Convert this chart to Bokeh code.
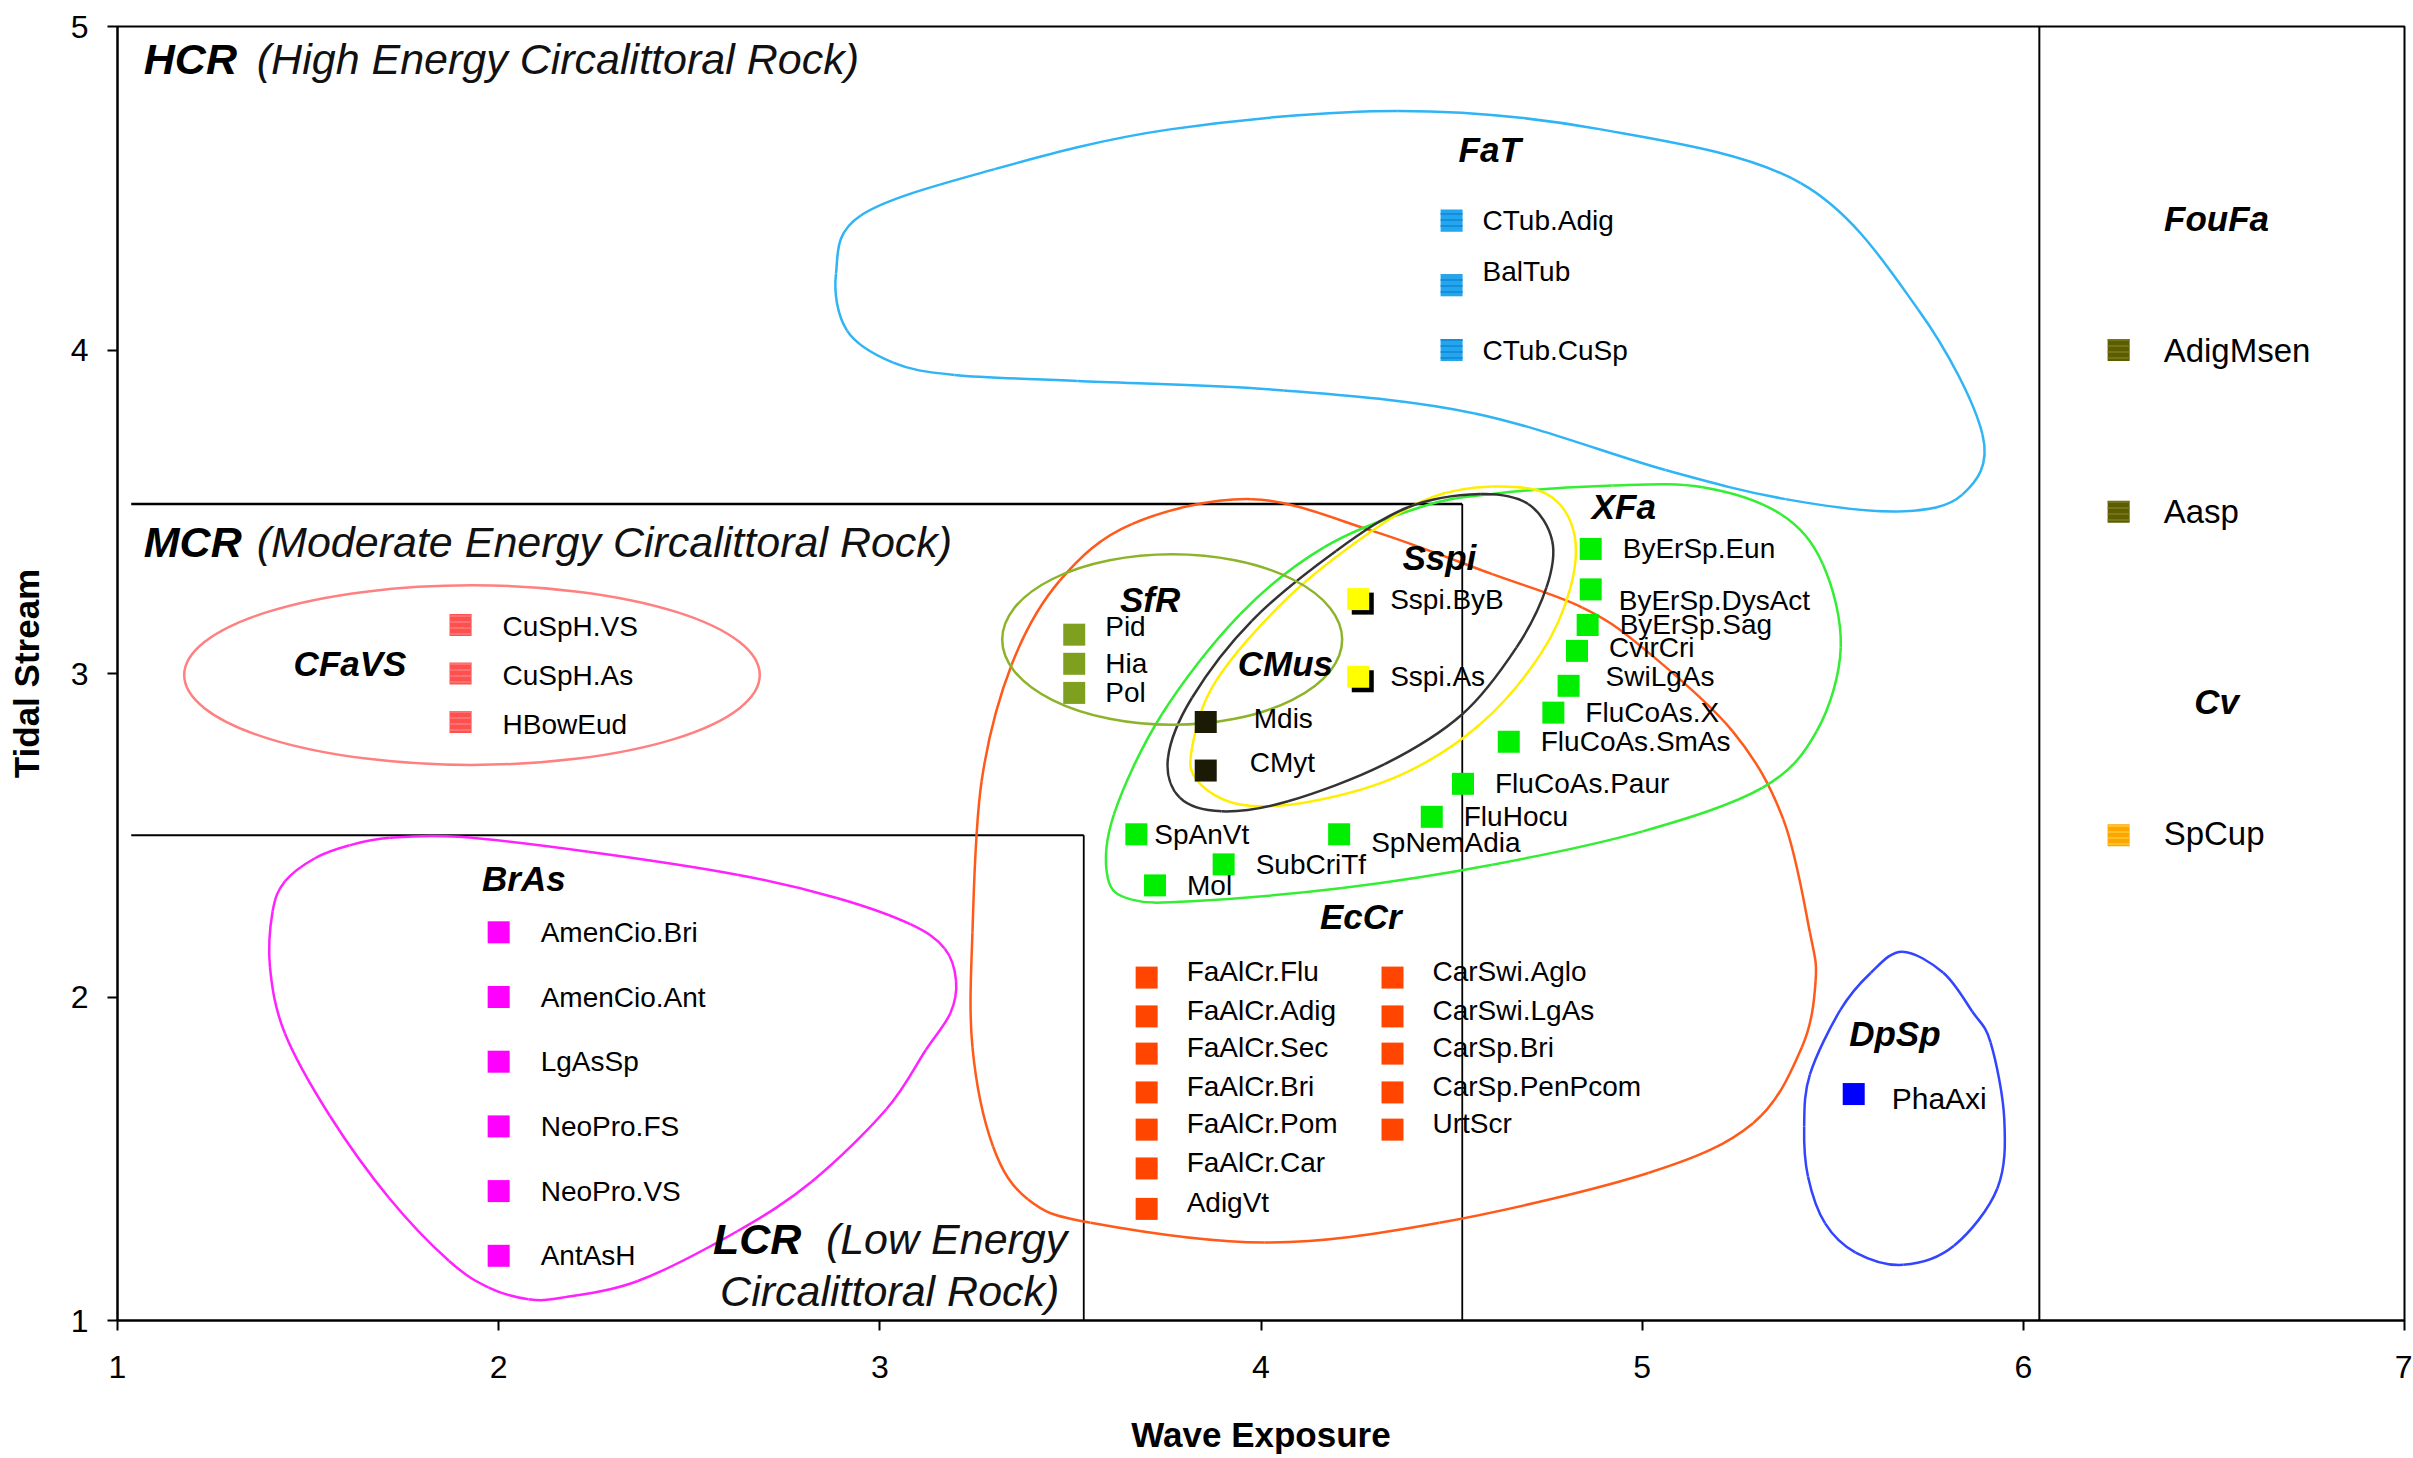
from bokeh.plotting import figure
from bokeh.models import FixedTicker, Range1d, ColumnDataSource
from bokeh.core.properties import value
from bokeh.transform import dodge
from bokeh.embed import file_html
from bokeh.resources import INLINE

FONT = "Liberation Sans"

# ---------------- data ----------------
x_ticks = [1, 2, 3, 4, 5, 6, 7]
y_ticks = [1, 2, 3, 4, 5]

# FaT
fat_names = ["CTub.Adig", "BalTub", "CTub.CuSp"]
fat_x = [4.5, 4.5, 4.5]
fat_y = [4.4, 4.2, 4.0]
# FouFa
foufa_names = ["AdigMsen", "Aasp"]
foufa_x = [6.25, 6.25]
foufa_y = [4.0, 3.5]
# Cv
cv_names = ["SpCup"]
cv_x = [6.25]
cv_y = [2.5]
# CFaVS
cfavs_names = ["CuSpH.VS", "CuSpH.As", "HBowEud"]
cfavs_x = [1.9, 1.9, 1.9]
cfavs_y = [3.15, 3.0, 2.85]
# BrAs
bras_names = ["AmenCio.Bri", "AmenCio.Ant", "LgAsSp", "NeoPro.FS", "NeoPro.VS", "AntAsH"]
bras_x = [2.0, 2.0, 2.0, 2.0, 2.0, 2.0]
bras_y = [2.2, 2.0, 1.8, 1.6, 1.4, 1.2]
# SfR
sfr_names = ["Pid", "Hia", "Pol"]
sfr_x = [3.51, 3.51, 3.51]
sfr_y = [3.12, 3.03, 2.94]
# CMus
cmus_names = ["Mdis", "CMyt"]
cmus_x = [3.855, 3.855]
cmus_y = [2.85, 2.70]
# Sspi
sspi_names = ["Sspi.ByB", "Sspi.As"]
sspi_x = [4.255, 4.255]
sspi_y = [3.23, 2.99]
# XFa
xfa_names = ["ByErSp.Eun", "ByErSp.DysAct", "ByErSp.Sag", "CvirCri", "SwiLgAs",
             "FluCoAs.X", "FluCoAs.SmAs", "FluCoAs.Paur", "FluHocu", "SpNemAdia",
             "SpAnVt", "SubCriTf", "Mol"]
xfa_x = [4.865, 4.865, 4.857, 4.829, 4.807, 4.767, 4.65, 4.53, 4.448, 4.205, 3.673, 3.902, 3.722]
xfa_y = [3.385, 3.26, 3.15, 3.07, 2.962, 2.879, 2.789, 2.659, 2.557, 2.503, 2.503, 2.41, 2.345]
# EcCr
eccr_names = ["FaAlCr.Flu", "FaAlCr.Adig", "FaAlCr.Sec", "FaAlCr.Bri", "FaAlCr.Pom", "FaAlCr.Car", "AdigVt",
              "CarSwi.Aglo", "CarSwi.LgAs", "CarSp.Bri", "CarSp.PenPcom", "UrtScr"]
eccr_x = [3.70, 3.70, 3.70, 3.70, 3.70, 3.70, 3.70, 4.345, 4.345, 4.345, 4.345, 4.345]
eccr_y = [2.06, 1.94, 1.825, 1.705, 1.59, 1.47, 1.345, 2.06, 1.94, 1.825, 1.705, 1.59]
# DpSp
dpsp_names = ["PhaAxi"]
dpsp_x = [5.555]
dpsp_y = [1.70]

# group titles
group_titles = ["FaT", "FouFa", "Cv", "CFaVS", "BrAs", "SfR", "CMus", "Sspi", "XFa", "EcCr", "DpSp"]
group_title_x = [4.60, 6.507, 6.507, 1.61, 2.066, 3.709, 4.064, 4.468, 4.952, 4.262, 5.663]
group_title_y = [4.62, 4.407, 2.912, 3.03, 2.367, 3.23, 3.03, 3.358, 3.515, 2.248, 1.887]

# region labels
region_codes = ["HCR", "MCR", "LCR"]
region_desc = ["(High Energy Circalittoral Rock)", "(Moderate Energy Circalittoral Rock)", "(Low Energy"]
region_x = [1.069, 1.069, 2.562]
region_y = [4.90, 3.406, 1.251]
lcr_line2 = "Circalittoral Rock)"
lcr_line2_x = 3.471
lcr_line2_y = 1.09

# region boundary lines
mcr_top_x = [1.036, 4.528]
mcr_top_y = [3.524, 3.524]
mcr_side_x = [4.528, 4.528]
mcr_side_y = [3.524, 1.0]
lcr_top_x = [1.036, 3.535]
lcr_top_y = [2.5, 2.5]
lcr_side_x = [3.535, 3.535]
lcr_side_y = [2.5, 1.0]
split_x = [6.042, 6.042]
split_y = [1.0, 5.0]

# group outlines (hand-drawn envelopes, closed)
fat_out_x = [2.885, 2.95, 3.301, 3.761, 4.359, 4.892, 5.416, 5.723, 5.893, 5.84, 5.671, 5.376, 5.061, 4.561, 4.06, 3.519, 3.196, 3.035, 2.914]
fat_out_y = [4.236, 4.416, 4.559, 4.682, 4.739, 4.682, 4.516, 4.127, 3.738, 3.553, 3.501, 3.539, 3.629, 3.804, 3.875, 3.904, 3.923, 3.961, 4.06]
bras_out_x = [1.713, 1.896, 2.235, 2.626, 2.887, 3.08, 3.17, 3.20, 3.185, 3.121, 3.017, 2.821, 2.626, 2.365, 2.169, 2.078, 1.974, 1.87, 1.713, 1.557, 1.439, 1.40, 1.407, 1.439, 1.518, 1.609]
bras_out_y = [2.492, 2.495, 2.449, 2.378, 2.306, 2.225, 2.15, 2.05, 1.95, 1.837, 1.653, 1.429, 1.276, 1.122, 1.071, 1.066, 1.102, 1.184, 1.378, 1.633, 1.888, 2.092, 2.265, 2.357, 2.429, 2.469]
eccr_out_x = [3.976, 4.292, 4.607, 4.843, 5.001, 5.237, 5.37, 5.44, 5.455, 5.419, 5.291, 5.016, 4.468, 4.01, 3.553, 3.389, 3.297, 3.243, 3.243, 3.267, 3.346, 3.472, 3.661]
eccr_out_y = [3.539, 3.441, 3.307, 3.204, 3.08, 2.822, 2.55, 2.2, 2.05, 1.845, 1.61, 1.456, 1.302, 1.241, 1.302, 1.374, 1.538, 1.845, 2.2, 2.667, 3.028, 3.287, 3.462]
xfa_out_x = [4.418, 4.607, 4.922, 5.159, 5.363, 5.474, 5.521, 5.458, 5.316, 5.001, 4.607, 4.213, 3.819, 3.661, 3.598, 3.614, 3.74, 3.945, 4.165]
xfa_out_y = [3.514, 3.555, 3.581, 3.576, 3.493, 3.338, 3.08, 2.822, 2.647, 2.512, 2.409, 2.337, 2.296, 2.301, 2.368, 2.564, 2.874, 3.183, 3.39]
cmus_out_x = [4.575, 4.701, 4.764, 4.749, 4.67, 4.528, 4.323, 4.071, 3.897, 3.787, 3.756, 3.819, 3.976, 4.197, 4.386]
cmus_out_y = [3.555, 3.524, 3.41, 3.266, 3.08, 2.874, 2.719, 2.605, 2.574, 2.616, 2.739, 2.925, 3.163, 3.379, 3.514]
sspi_out_x = [4.607, 4.749, 4.82, 4.812, 4.733, 4.575, 4.37, 4.134, 3.945, 3.834, 3.819, 3.882, 4.071, 4.292, 4.449]
sspi_out_y = [3.578, 3.555, 3.441, 3.266, 3.059, 2.843, 2.688, 2.605, 2.595, 2.667, 2.77, 2.977, 3.235, 3.441, 3.545]
dpsp_out_x = [5.682, 5.79, 5.866, 5.914, 5.95, 5.932, 5.818, 5.685, 5.56, 5.48, 5.435, 5.425, 5.44, 5.52, 5.60]
dpsp_out_y = [2.14, 2.075, 1.955, 1.86, 1.623, 1.409, 1.231, 1.172, 1.21, 1.30, 1.445, 1.60, 1.76, 1.96, 2.075]
# elliptical envelopes: centre, width, height
cfavs_ell = (1.93, 2.995, 1.51, 0.555)
sfr_ell = (3.767, 3.105, 0.892, 0.527)

# ---------------- figure ----------------
p = figure(width=2412, height=1456, x_range=Range1d(1, 7), y_range=Range1d(1, 5),
           output_backend="svg", toolbar_location=None,
           min_border_left=117, min_border_right=8, min_border_top=26, min_border_bottom=129)
p.xgrid.visible = False
p.ygrid.visible = False
p.outline_line_color = "black"
p.outline_line_width = 2
p.background_fill_color = "white"
p.border_fill_color = "white"

for ax in (p.xaxis[0], p.yaxis[0]):
    ax.axis_line_width = 2
    ax.axis_line_color = "black"
    ax.major_tick_line_width = 2
    ax.major_tick_line_color = "black"
    ax.major_tick_out = 10
    ax.major_tick_in = 0
    ax.minor_tick_line_color = None
    ax.major_label_text_font = FONT
    ax.major_label_text_font_size = "32px"
    ax.major_label_text_color = "black"
    ax.axis_label_text_font = FONT
    ax.axis_label_text_font_size = "35px"
    ax.axis_label_text_font_style = "bold"
    ax.axis_label_text_color = "black"
p.xaxis.ticker = FixedTicker(ticks=x_ticks)
p.yaxis.ticker = FixedTicker(ticks=y_ticks)
p.xaxis.axis_label = "Wave Exposure"
p.yaxis.axis_label = "Tidal Stream"
p.xaxis.major_label_standoff = 25
p.yaxis.major_label_standoff = 19
p.xaxis.axis_label_standoff = 34
p.yaxis.axis_label_standoff = 22

# region lines
for lx, ly, w in ((mcr_top_x, mcr_top_y, 2.5), (mcr_side_x, mcr_side_y, 1.8), (lcr_top_x, lcr_top_y, 2),
                  (lcr_side_x, lcr_side_y, 1.8), (split_x, split_y, 2)):
    p.line(lx, ly, line_color="black", line_width=w)


def smooth_closed(xs, ys):
    n = len(xs)
    d = {k: [] for k in ("x0", "y0", "x1", "y1", "cx0", "cy0", "cx1", "cy1")}
    for i in range(n):
        a, b, c = (i - 1) % n, (i + 1) % n, (i + 2) % n
        d["x0"].append(xs[i]); d["y0"].append(ys[i])
        d["x1"].append(xs[b]); d["y1"].append(ys[b])
        d["cx0"].append(xs[i] + (xs[b] - xs[a]) / 6.0)
        d["cy0"].append(ys[i] + (ys[b] - ys[a]) / 6.0)
        d["cx1"].append(xs[b] - (xs[c] - xs[i]) / 6.0)
        d["cy1"].append(ys[b] - (ys[c] - ys[i]) / 6.0)
    return ColumnDataSource(d)


outlines = [
    (fat_out_x, fat_out_y, "#2FB4F5"),
    (bras_out_x, bras_out_y, "#FF22FF"),
    (eccr_out_x, eccr_out_y, "#FF5A1A"),
    (xfa_out_x, xfa_out_y, "#33EE33"),
    (sspi_out_x, sspi_out_y, "#FFEE00"),
    (cmus_out_x, cmus_out_y, "#333333"),
    (dpsp_out_x, dpsp_out_y, "#3344FF"),
]
for ox, oy, col in outlines:
    p.bezier(x0="x0", y0="y0", x1="x1", y1="y1", cx0="cx0", cy0="cy0", cx1="cx1", cy1="cy1",
             source=smooth_closed(ox, oy), line_color=col, line_width=2.5)

for (cx, cy, w, h), col in ((cfavs_ell, "#FF8080"), (sfr_ell, "#8DB32B")):
    p.ellipse(x=[cx], y=[cy], width=[w], height=[h], fill_color=None, line_color=col, line_width=2.5)

# points
MS = 22
groups = [
    # names, x, y, fill, hatch colour, label dx, label dy, font size
    (fat_names, fat_x, fat_y, "#22A6F0", "#1284D0", 31, 0, "28px"),
    (foufa_names, foufa_x, foufa_y, "#5C5C00", "#7A7A20", 45, 0, "33px"),
    (cv_names, cv_x, cv_y, "#FFA500", "#FFCC33", 45, -2, "33px"),
    (cfavs_names, cfavs_x, cfavs_y, "#FF5050", "#FF7A7A", 42, 2, "28px"),
    (bras_names, bras_x, bras_y, "#FF00FF", None, 42, 0, "28px"),
    (sfr_names, sfr_x, sfr_y, "#7F9F1F", None, 31, 0, "28px"),
    (cmus_names, cmus_x, cmus_y, "#1A1A05", None, 48, -4, "28px"),
    (sspi_names, sspi_x, sspi_y, "#FFFF00", None, 32, 0, "28px"),
    (xfa_names, xfa_x, xfa_y, "#00EE00", None, 32, 0, "28px"),
    (eccr_names, eccr_x, eccr_y, "#FF4500", None, 40, -6, "28px"),
    (dpsp_names, dpsp_x, dpsp_y, "#0000FF", None, 38, 4, "30px"),
]
label_nudge = {"BalTub": (0, -14), "ByErSp.DysAct": (-4, 11), "SwiLgAs": (5, -9), "SpNemAdia": (0, 8),
               "Pid": (0, -8), "CMyt": (-4, -4), "SpAnVt": (-14, 0), "CvirCri": (0, -3)}

for names, xs, ys, col, hcol, dx, dy, fs in groups:
    src = ColumnDataSource(dict(x=xs, y=ys, name=names))
    if col == "#FFFF00":
        p.scatter(x=dodge("x", 0.012, range=p.x_range), y=dodge("y", -0.014, range=p.y_range),
                  source=src, marker="square", size=MS, fill_color="black", line_color=None)
    kw = {}
    if hcol is not None:
        kw = dict(hatch_pattern="horizontal_line", hatch_color=hcol, hatch_scale=6, hatch_weight=1.5)
    p.scatter(x="x", y="y", source=src, marker="square", size=MS, fill_color=col, line_color=None, **kw)
    for n, xv, yv in zip(names, xs, ys):
        ndx, ndy = label_nudge.get(n, (0, 0))
        p.text(x=[xv], y=[yv], text=[n], x_offset=dx + ndx, y_offset=dy + ndy,
               text_font=value(FONT), text_font_size=fs, text_color="black",
               text_baseline="middle", text_align="left")

# group titles
p.text(x=group_title_x, y=group_title_y, text=group_titles, text_font=value(FONT),
       text_font_size="35px", text_font_style="bold italic", text_color="black",
       text_align="center", text_baseline="middle")

# region labels
p.text(x=region_x, y=region_y, text=region_codes, text_font=value(FONT), text_font_size="43px",
       text_font_style="bold italic", text_color="black", text_align="left", text_baseline="middle")
p.text(x=region_x, y=region_y, text=region_desc, text_font=value(FONT), text_font_size="43px",
       text_font_style="italic", text_color="#111111", text_align="left", text_baseline="middle",
       x_offset=113)
p.text(x=[lcr_line2_x], y=[lcr_line2_y], text=[lcr_line2], text_font=value(FONT), text_font_size="43px",
       text_font_style="italic", text_color="#111111", text_align="right", text_baseline="middle")

open("out.html", "w").write(file_html(p, INLINE))
